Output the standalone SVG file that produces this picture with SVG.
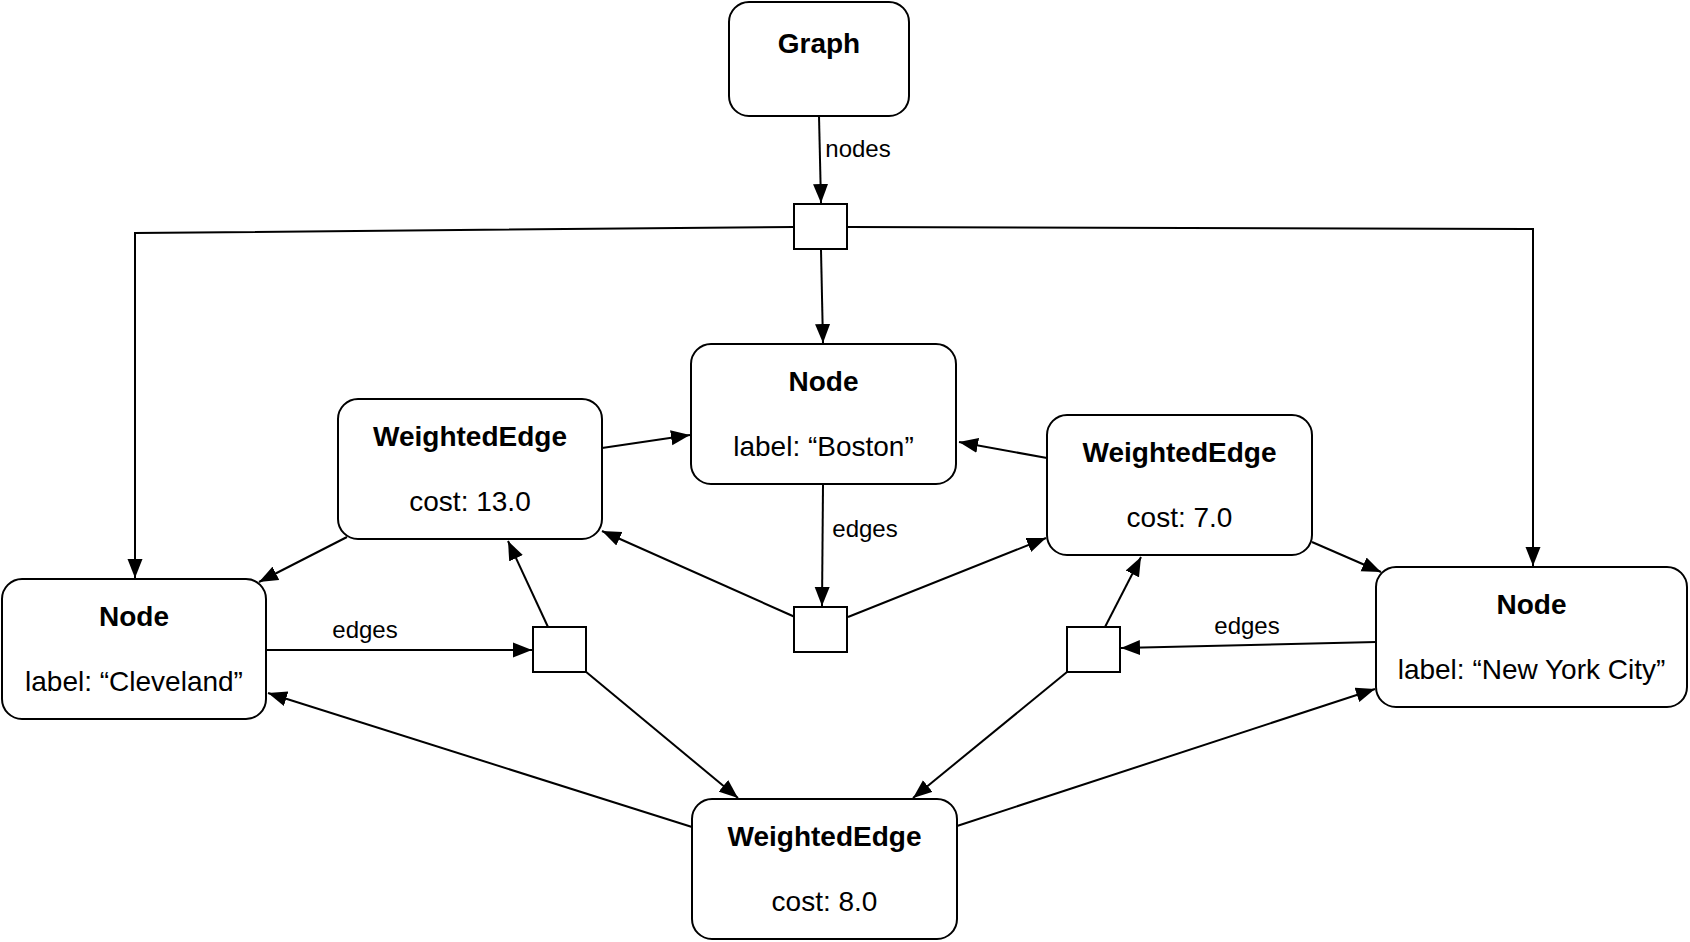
<svg xmlns="http://www.w3.org/2000/svg" width="1690" height="942" viewBox="0 0 1690 942">
<style>
.box{fill:#fff;stroke:#000;stroke-width:2}
.sq{fill:#fff;stroke:#000;stroke-width:2}
.t{font-family:"Liberation Sans",Helvetica,Arial,sans-serif;font-size:28px;fill:#000;text-anchor:middle}
.b{font-weight:bold}
.el{font-family:"Liberation Sans",Helvetica,Arial,sans-serif;font-size:24px;fill:#000;text-anchor:middle}
.c{fill:none;stroke:#000;stroke-width:2;marker-end:url(#arr)}
</style>
<defs>
<marker id="arr" markerUnits="userSpaceOnUse" markerWidth="20" markerHeight="16" refX="19" refY="8" orient="auto">
<path d="M0,0.5 L19,8 L0,15.5 z" fill="#000"/>
</marker>
</defs>
<rect width="1690" height="942" fill="#fff"/>
<g id="connectors">
<path class="c" d="M819,116 L821,203"/>
<path class="c" d="M794,227 L135,233 L135,578"/>
<path class="c" d="M848,227 L1533,229 L1533,566"/>
<path class="c" d="M821,250 L823,343"/>
<path class="c" d="M602,448 L690,435"/>
<path class="c" d="M347,537 L259,582"/>
<path class="c" d="M266,650 L532,650"/>
<path class="c" d="M548,627 L508,541"/>
<path class="c" d="M585,671 L738,798"/>
<path class="c" d="M692,827 L268,693"/>
<path class="c" d="M823,485 L822,606"/>
<path class="c" d="M795,617 L602,531"/>
<path class="c" d="M848,617 L1046,538"/>
<path class="c" d="M1047,458 L959,442"/>
<path class="c" d="M1312,542 L1381,572"/>
<path class="c" d="M1376,642 L1121,648"/>
<path class="c" d="M1105,627 L1141,557"/>
<path class="c" d="M1067,672 L913,798"/>
<path class="c" d="M957,826 L1375,689"/>
<text class="el" x="858" y="157">nodes</text>
<text class="el" x="365" y="638">edges</text>
<text class="el" x="865" y="537">edges</text>
<text class="el" x="1247" y="634">edges</text>
</g>
<g id="graph">
<rect class="box" x="729" y="2" width="180" height="114" rx="20"/>
<text class="t b" x="819" y="53">Graph</text>
</g>
<g id="junction-nodes"><rect class="sq" x="794" y="204" width="53" height="45"/></g>
<g id="junction-cleveland"><rect class="sq" x="533" y="627" width="53" height="45"/></g>
<g id="junction-boston"><rect class="sq" x="794" y="607" width="53" height="45"/></g>
<g id="junction-nyc"><rect class="sq" x="1067" y="627" width="53" height="45"/></g>
<g id="node-boston">
<rect class="box" x="691" y="344" width="265" height="140" rx="20"/>
<text class="t b" x="823.5" y="391">Node</text>
<text class="t" x="823.5" y="456">label: “Boston”</text>
</g>
<g id="node-cleveland">
<rect class="box" x="2" y="579" width="264" height="140" rx="20"/>
<text class="t b" x="134" y="626">Node</text>
<text class="t" x="134" y="691">label: “Cleveland”</text>
</g>
<g id="node-nyc">
<rect class="box" x="1376" y="567" width="311" height="140" rx="20"/>
<text class="t b" x="1531.5" y="614">Node</text>
<text class="t" x="1531.5" y="679">label: “New York City”</text>
</g>
<g id="edge-13">
<rect class="box" x="338" y="399" width="264" height="140" rx="20"/>
<text class="t b" x="470" y="446">WeightedEdge</text>
<text class="t" x="470" y="511">cost: 13.0</text>
</g>
<g id="edge-7">
<rect class="box" x="1047" y="415" width="265" height="140" rx="20"/>
<text class="t b" x="1179.5" y="462">WeightedEdge</text>
<text class="t" x="1179.5" y="527">cost: 7.0</text>
</g>
<g id="edge-8">
<rect class="box" x="692" y="799" width="265" height="140" rx="20"/>
<text class="t b" x="824.5" y="846">WeightedEdge</text>
<text class="t" x="824.5" y="911">cost: 8.0</text>
</g>
</svg>
